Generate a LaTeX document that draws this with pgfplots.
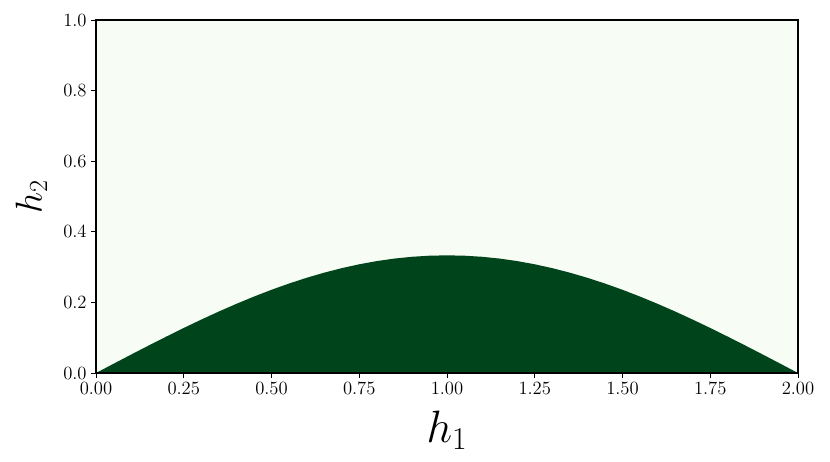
\RequirePackage{fix-cm}
\documentclass[border=0pt]{standalone}
\usepackage{pgfplots}
\pgfplotsset{compat=1.18}
\definecolor{bgg}{HTML}{F7FCF5}
\definecolor{dkg}{HTML}{00441B}
\begin{document}
\begin{tikzpicture}
\begin{axis}[
  at={(0,0)}, anchor=south west,
  scale only axis, width=526.5pt, height=264.75pt,
  xmin=0, xmax=2, ymin=0, ymax=1,
  xtick={0,0.25,...,2.0}, ytick={0,0.2,...,1.0},
  xticklabel style={/pgf/number format/.cd,fixed,fixed zerofill,precision=2},
  yticklabel style={/pgf/number format/.cd,fixed,fixed zerofill,precision=1},
  tick label style={font=\fontsize{14}{16}\selectfont},
  tick align=outside, tick pos=left, major tick length=3.5pt,
  tick style={black, line width=0.6pt},
  axis line style={line width=0.8pt},
  axis background/.style={fill=bgg},
  xlabel={$h_1$}, ylabel={$h_2$},
  xlabel style={font=\fontsize{34}{38}\selectfont, at={(axis description cs:0.5,-0.198)}, anchor=base},
  ylabel style={font=\fontsize{28}{32}\selectfont, at={(axis description cs:-0.092,0.5)}, anchor=center},
  axis on top,
]
\addplot[fill=dkg, draw=none] table {
x y
0.00 0.00000
0.05 0.02615
0.10 0.05214
0.15 0.07782
0.20 0.10301
0.25 0.12756
0.30 0.15133
0.35 0.17417
0.40 0.19593
0.45 0.21648
0.50 0.23570
0.55 0.25347
0.60 0.26967
0.65 0.28421
0.70 0.29700
0.75 0.30796
0.80 0.31702
0.85 0.32412
0.90 0.32923
0.95 0.33231
1.00 0.33333
1.05 0.33231
1.10 0.32923
1.15 0.32412
1.20 0.31702
1.25 0.30796
1.30 0.29700
1.35 0.28421
1.40 0.26967
1.45 0.25347
1.50 0.23570
1.55 0.21648
1.60 0.19593
1.65 0.17417
1.70 0.15133
1.75 0.12756
1.80 0.10301
1.85 0.07782
1.90 0.05214
1.95 0.02615
2.00 0.00000
} \closedcycle;
\end{axis}
\path[use as bounding box] (-72pt,-66pt) rectangle (550.5pt,279.75pt);
\end{tikzpicture}
\end{document}
